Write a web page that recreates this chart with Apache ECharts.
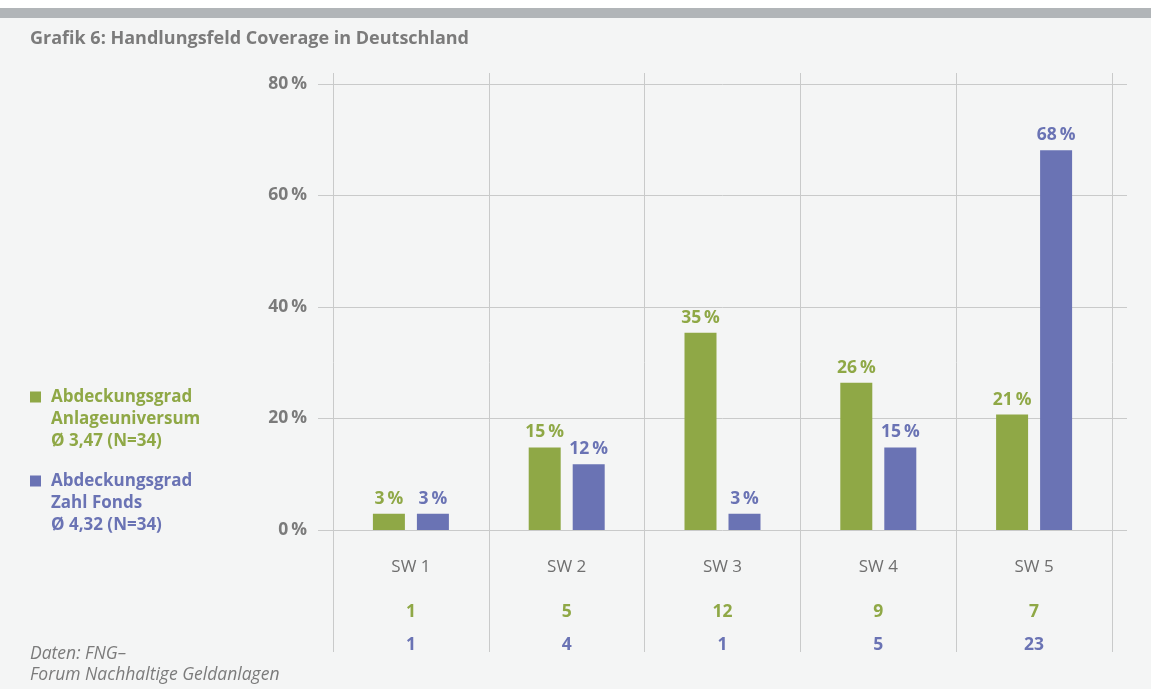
<!DOCTYPE html>
<html>
<head>
<meta charset="utf-8">
<script src="https://cdn.jsdelivr.net/npm/echarts@6/dist/echarts.min.js"></script>
<style>
  html, body { margin: 0; padding: 0; background: #f4f5f5; }
  #chart { width: 1151px; height: 689px; }
</style>
</head>
<body>
<div id="chart"></div>
<script>
const categories = ['SW 1', 'SW 2', 'SW 3', 'SW 4', 'SW 5'];
const universeValues = [2.9, 14.8, 35.4, 26.4, 20.7];
const fundValues = [2.9, 11.8, 2.9, 14.8, 68.1];
const universeCounts = [1, 5, 12, 9, 7];
const fundCounts = [1, 4, 1, 5, 23];
const yTicks = [0, 20, 40, 60, 80];

const green = '#8fa846';
const blue = '#6a73b4';
const grey = '#7b7b7b';
const lineGrey = '#c9caca';
const font = 'Open Sans';

// two blank lines on top so the square sits next to the first line
const nameUniverse = '\n\nAbdeckungsgrad\nAnlageuniversum\nØ 3,47 (N=34)';
const nameFonds = '\n\nAbdeckungsgrad\nZahl Fonds\nØ 4,32 (N=34)';
const squareIcon = 'path://M0,0L11,0L11,11L0,11Z M15.99,10.99L16,10.99L16,11Z';

const chart = echarts.init(document.getElementById('chart'));

const legendText = color => ({
    color: color,
    fontFamily: font,
    fontWeight: 'bold',
    fontSize: 17,
    lineHeight: 22
});

const barLabel = color => ({
    show: true,
    position: 'top',
    distance: 6,
    color: color,
    fontFamily: font,
    fontWeight: 'bold',
    fontSize: 17.5,
    formatter: p => Math.round(p.value) + '\u2009%'
});

chart.setOption({
    backgroundColor: '#f4f5f5',
    graphic: [
        { type: 'rect', shape: { x: 0, y: 0, width: 1151, height: 8 }, style: { fill: '#ffffff' }, silent: true },
        { type: 'rect', shape: { x: 0, y: 8, width: 1151, height: 10 }, style: { fill: '#b1b5b8' }, silent: true }
    ],
    title: [
        {
            text: 'Grafik 6: Handlungsfeld Coverage in Deutschland',
            left: 30,
            top: 30,
            padding: 0,
            textStyle: { color: grey, fontFamily: font, fontWeight: 'bold', fontSize: 18 }
        },
        {
            text: 'Daten: FNG–\nForum Nachhaltige Geldanlagen',
            left: 30,
            top: 644,
            padding: 0,
            textStyle: { color: grey, fontFamily: font, fontStyle: 'italic', fontWeight: 'normal', fontSize: 17.5, lineHeight: 21 }
        }
    ],
    legend: [
        {
            data: [nameUniverse],
            left: 30,
            top: 342,
            padding: 0,
            icon: squareIcon,
            itemWidth: 16,
            itemHeight: 11,
            selectedMode: false,
            textStyle: legendText(green)
        },
        {
            data: [nameFonds],
            left: 30,
            top: 426,
            padding: 0,
            icon: squareIcon,
            itemWidth: 16,
            itemHeight: 11,
            selectedMode: false,
            textStyle: legendText(blue)
        }
    ],
    grid: [
        { left: 333, right: 39, top: 84, bottom: 159 },
        { left: 333, right: 39, top: 73, bottom: 37 }
    ],
    xAxis: [
        {
            type: 'category',
            gridIndex: 0,
            data: categories,
            axisLine: { show: false },
            axisTick: { show: false },
            splitLine: { show: false },
            axisLabel: {
                margin: 8,
                formatter: (value, i) => '{a|' + value + '}\n{g|' + universeCounts[i] + '}\n{b|' + fundCounts[i] + '}',
                rich: {
                    a: { color: '#6f6f6f', fontFamily: font, fontSize: 17, lineHeight: 58 },
                    g: { color: green, fontFamily: font, fontWeight: 'bold', fontSize: 17.5, lineHeight: 33 },
                    b: { color: blue, fontFamily: font, fontWeight: 'bold', fontSize: 17.5, lineHeight: 33 }
                }
            }
        },
        {
            type: 'category',
            gridIndex: 1,
            data: categories,
            axisLine: { show: false },
            axisTick: { show: false },
            axisLabel: { show: false },
            splitLine: { show: true, lineStyle: { color: lineGrey, width: 1 } }
        }
    ],
    yAxis: [
        {
            type: 'value',
            gridIndex: 0,
            min: yTicks[0],
            max: yTicks[yTicks.length - 1],
            interval: 20,
            axisLine: { show: false },
            axisTick: { show: true, length: 15, lineStyle: { color: lineGrey } },
            splitLine: { show: true, lineStyle: { color: lineGrey, width: 1 } },
            axisLabel: {
                margin: 26,
                color: grey,
                fontFamily: font,
                fontWeight: 'bold',
                fontSize: 17.5,
                padding: [3, 0, 0, 0],
                formatter: v => v + '\u2009%'
            }
        },
        {
            type: 'value',
            gridIndex: 0,
            position: 'right',
            min: yTicks[0],
            max: yTicks[yTicks.length - 1],
            interval: 20,
            axisLine: { show: false },
            axisTick: { show: true, length: 15, lineStyle: { color: lineGrey } },
            splitLine: { show: false },
            axisLabel: { show: false }
        },
        {
            type: 'value',
            gridIndex: 1,
            show: false
        }
    ],
    series: [
        {
            name: nameUniverse,
            type: 'bar',
            xAxisIndex: 0,
            yAxisIndex: 0,
            data: universeValues,
            barWidth: 32,
            barGap: '37.5%',
            itemStyle: { color: green },
            label: barLabel(green)
        },
        {
            name: nameFonds,
            type: 'bar',
            xAxisIndex: 0,
            yAxisIndex: 0,
            data: fundValues,
            barWidth: 32,
            barGap: '37.5%',
            itemStyle: { color: blue },
            label: barLabel(blue)
        }
    ]
});
</script>
</body>
</html>
